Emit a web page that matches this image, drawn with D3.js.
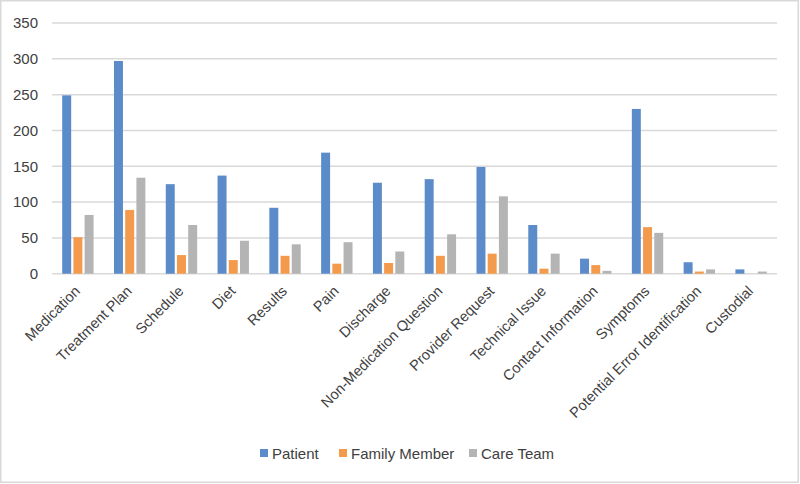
<!DOCTYPE html>
<html>
<head>
<meta charset="utf-8">
<script src="https://cdn.jsdelivr.net/npm/d3@7"></script>
<style>
  html, body { margin: 0; padding: 0; background: #fff; }
  svg { display: block; }
  text { font-family: "Liberation Sans", Arial, sans-serif; fill: #404040; }
</style>
</head>
<body>
<svg id="chart" width="800" height="484"></svg>
<script>
const categories = ["Medication", "Treatment Plan", "Schedule", "Diet", "Results", "Pain", "Discharge",
  "Non-Medication Question", "Provider Request", "Technical Issue", "Contact Information", "Symptoms",
  "Potential Error Identification", "Custodial"];
const seriesNames = ["Patient", "Family Member", "Care Team"];
const patient      = [249, 297, 125, 137, 92, 169, 127, 132, 149, 68, 21, 230, 16, 6];
const familyMember = [51, 89, 26, 19, 25, 14, 15, 25, 28, 7, 12, 65, 3, 0];
const careTeam     = [82, 134, 68, 46, 41, 44, 31, 55, 108, 28, 4, 57, 6, 3];
const yTicks = [0, 50, 100, 150, 200, 250, 300, 350];
const colors = ["#5B8BC8", "#F39A4C", "#B4B4B4"];

const seriesValues = [patient, familyMember, careTeam];
const svg = d3.select("#chart");

// frame
svg.append("rect").attr("x", 0.75).attr("y", 0.75).attr("width", 797.5).attr("height", 481.5)
  .attr("fill", "#fff").attr("stroke", "#d9d9d9").attr("stroke-width", 1.5);

const plotLeft = 52, plotRight = 777, plotTop = 23, plotBottom = 273.7;
const y = d3.scaleLinear().domain([0, 350]).range([plotBottom, plotTop]);
const x0 = d3.scaleBand().domain(categories).range([plotLeft, plotRight]).padding(0);
const x1 = d3.scaleBand().domain(seriesNames).range([0, x0.bandwidth()])
  .paddingInner(0.2).paddingOuter(0.91);

// gridlines
svg.append("g").selectAll("line").data(yTicks).join("line")
  .attr("x1", plotLeft).attr("x2", plotRight)
  .attr("y1", d => y(d)).attr("y2", d => y(d))
  .attr("stroke", "#d9d9d9").attr("stroke-width", 1.5);

// y axis labels
const yAxis = d3.axisLeft(y).tickValues(yTicks).tickSize(0).tickPadding(0);
const gy = svg.append("g").attr("transform", `translate(${38},0)`).call(yAxis);
gy.select(".domain").remove();
gy.selectAll("text").attr("font-size", 15).attr("fill", "#404040")
  .style("font-family", "'Liberation Sans', Arial, sans-serif");

// bars
const groups = svg.append("g").selectAll("g").data(categories).join("g")
  .attr("transform", d => `translate(${x0(d)},0)`);
groups.selectAll("rect").data((c, i) => seriesNames.map((s, j) => ({ s, j, v: seriesValues[j][i] })))
  .join("rect")
  .attr("x", d => x1(d.s))
  .attr("width", x1.bandwidth())
  .attr("y", d => y(d.v))
  .attr("height", d => y(0) - y(d.v))
  .attr("fill", d => colors[d.j]);

// category labels
svg.append("g").selectAll("text").data(categories).join("text")
  .attr("transform", d => `translate(${x0(d) + x0.bandwidth() / 2 + 3},${292}) rotate(-45)`)
  .attr("text-anchor", "end")
  .attr("font-size", 14.6)
  .text(d => d);

// legend
const legendX = [260, 339, 469];
const lg = svg.append("g").selectAll("g").data(seriesNames).join("g")
  .attr("transform", (d, i) => `translate(${legendX[i]},449)`);
lg.append("rect").attr("width", 8).attr("height", 8).attr("fill", (d, i) => colors[i]);
lg.append("text").attr("x", 12).attr("y", 9.5).attr("font-size", 15).text(d => d);
</script>
</body>
</html>
